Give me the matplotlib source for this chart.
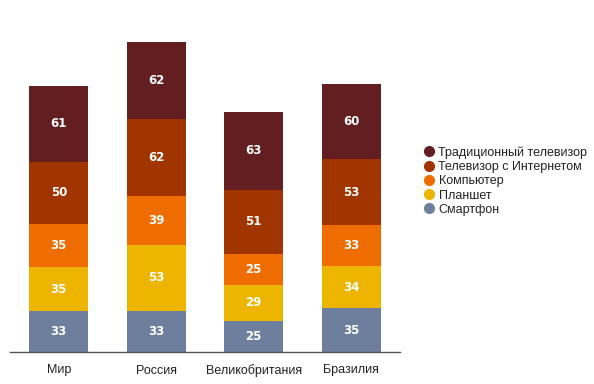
import numpy as np
import matplotlib.pyplot as plt
from matplotlib.lines import Line2D

plt.rcParams['font.family'] = ['Liberation Sans', 'DejaVu Sans']

countries = ['Мир', 'Россия', 'Великобритания', 'Бразилия']
series = ['Смартфон', 'Планшет', 'Компьютер', 'Телевизор с Интернетом', 'Традиционный телевизор']
smartphone = [33, 33, 25, 35]
tablet = [35, 53, 29, 34]
computer = [35, 39, 25, 33]
smart_tv = [50, 62, 51, 53]
tv = [61, 62, 63, 60]
colors = ['#6E7F9E', '#EDB500', '#EF6C00', '#A03500', '#631E22']

fig = plt.figure(figsize=(5.94, 3.84), dpi=100)
ax = fig.add_axes([10 / 594, 1 - 352 / 384, 390 / 594, 323.7 / 384])

x = np.arange(len(countries))
bottom = np.zeros(len(countries))
for name, vals, col in zip(series, [smartphone, tablet, computer, smart_tv, tv], colors):
    vals = np.array(vals)
    ax.bar(x, vals, width=0.606, bottom=bottom, color=col, linewidth=0)
    for xi, b, v in zip(x, bottom, vals):
        ax.text(xi, b + v / 2, str(v), ha='center', va='center', color='white',
                fontsize=8.5, fontweight='bold', family='DejaVu Sans')
    bottom += vals

ax.set_xlim(-0.5, 3.5)
ax.set_ylim(0, 260)
ax.set_xticks(x)
ax.set_xticklabels(countries, fontsize=9, color='#222222')
ax.tick_params(axis='x', length=0, pad=9)
ax.set_yticks([])
for s in ['top', 'right', 'left']:
    ax.spines[s].set_visible(False)
ax.spines['bottom'].set_color('#555555')
ax.spines['bottom'].set_linewidth(1)

handles = [Line2D([], [], marker='o', linestyle='', markersize=7, color=c) for c in colors[::-1]]
fig.legend(handles, series[::-1], loc='center left', bbox_to_anchor=(416 / 594, 1 - 181 / 384),
           frameon=False, fontsize=9, handletextpad=0.2, handlelength=1.2,
           labelspacing=0.18, borderaxespad=0, labelcolor='#222222')

fig.savefig('out.png', dpi=100)
